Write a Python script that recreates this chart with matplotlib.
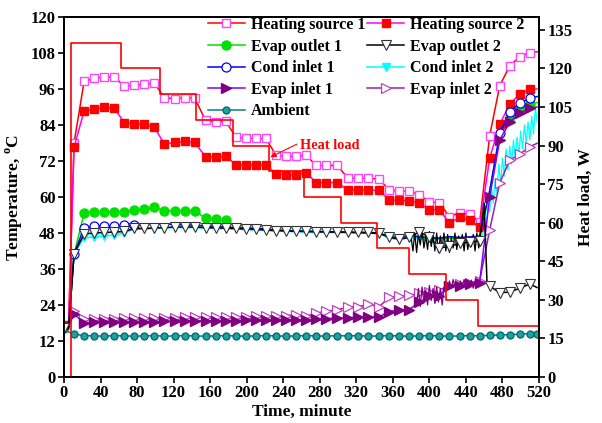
import matplotlib
matplotlib.use("Agg")
import matplotlib.pyplot as plt

plt.rcParams['font.family'] = 'Liberation Serif'
plt.rcParams['font.weight'] = 'bold'
plt.rcParams['axes.labelweight'] = 'bold'
plt.rcParams['font.size'] = 11.5
plt.rcParams['mathtext.fontset'] = 'custom'
plt.rcParams['mathtext.rm'] = 'Liberation Serif:bold'
plt.rcParams['mathtext.bf'] = 'Liberation Serif:bold'

# time of the marker points, minute
t = [0, 5, 11, 22, 33, 44, 55, 66, 77, 88, 99, 110, 121, 132, 143, 155, 166, 177,
     188, 199, 210, 221, 232, 243, 254, 265, 276, 287, 299, 311, 322, 333, 345, 356,
     367, 378, 389, 400, 411, 422, 433, 444, 455, 466, 477, 488, 499, 510, 518]

heating_1 = [17, 17, 78, 98.5, 99.5, 100, 100, 97, 97.2, 97.5, 98, 93, 92.8, 93, 93,
             85.5, 85, 85.3, 80, 79.5, 79.5, 79.5, 74, 73.5, 73.5, 74, 70.5, 70.5, 70.5,
             66.3, 66.3, 66.2, 66, 62.3, 62, 62, 60.7, 58.4, 58.1, 53.4, 54.8, 54.2, 51.5,
             80.4, 97.1, 103.7, 106.8, 108.1, 108.4]
heating_2 = [17.5, 17.5, 76.5, 88.7, 89.3, 89.9, 89.6, 84.8, 84.3, 84.2, 83.2, 77.6, 78.2, 78.5, 78.2,
             73.4, 73.3, 73.6, 70.8, 70.6, 70.6, 70.7, 67.7, 67.4, 67.4, 68.1, 64.8, 64.8, 64.8,
             62.3, 62.3, 62.3, 62.2, 59, 58.9, 58.7, 58.1, 55.7, 55.7, 51.2, 53.2, 52.3, 49.9,
             72.9, 84.2, 91, 94.3, 95.9, 96]
evap_out_1 = [17, 16.5, 41, 54.5, 54.9, 55, 55, 55.1, 55.6, 55.9, 56.6, 55.4, 55.4, 55.4, 55.4,
              52.9, 52.6, 52.4, 50, 49.8, 49.5, 49.3, 49, 48.8, 48.7, 48.6, 48.5, 48.4, 48.3,
              48.3, 48.2, 48.1, 48, 47, 46.5, 47, 46.5, 46.2, 46, 46.3, 46.2, 46, 46.5,
              62, 80, 86.5, 89.5, 91, 91.5]
cond_in_1 = [17, 16.5, 41, 49.8, 50.2, 50.3, 50.3, 50.5, 50.8, 51, 51, 51, 50.8, 50.7, 50.6,
             50.3, 50.2, 50, 49.8, 49.6, 49.5, 49.3, 49, 48.8, 48.7, 48.6, 48.5, 48.4, 48.3,
             48.2, 48.1, 48, 47.8, 46.8, 46.3, 47.2, 46.8, 46.5, 46.3, 46.8, 46.5, 46.7, 47,
             62, 81.2, 88.4, 91.4, 92.9, 93.5]
evap_in_1 = [17, 17, 21, 18, 18.2, 18.3, 18.3, 18.4, 18.5, 18.5, 18.5, 18.6, 18.6, 18.6, 18.7,
             18.7, 18.8, 18.8, 18.8, 18.9, 18.9, 19, 19, 19, 19, 19, 19.2, 19.5, 19.6,
             19.7, 19.9, 20, 20.1, 21.8, 22.3, 22.5, 25, 27, 27, 30.2, 30.5, 31, 31.5,
             60, 79, 85, 88, 89.5, 90]
evap_in_2 = [17, 17, 22, 19.3, 19.4, 19.5, 19.5, 19.6, 19.6, 19.7, 19.7, 19.8, 19.8, 19.9, 19.9,
             20, 20, 20, 20.1, 20.1, 20.2, 20.2, 20.3, 20.5, 20.7, 20.3, 21.2, 22, 22.3,
             23.4, 23.4, 24.2, 23.4, 26.6, 27, 27.2, 28, 28.5, 29, 30.5, 31, 31.5, 32,
             49, 64.7, 72.3, 74.3, 76.8, 77.9]
ambient = [16, 15, 14.3, 13.8, 13.7, 13.6, 13.8, 13.7, 13.6, 13.7, 13.8, 13.6, 13.7, 13.8, 13.7,
           13.6, 13.7, 13.8, 13.7, 13.6, 13.7, 13.8, 13.7, 13.6, 13.7, 13.8, 13.7, 13.6, 13.8,
           13.7, 13.8, 13.6, 13.7, 13.8, 13.7, 13.6, 13.7, 13.8, 13.7, 13.6, 13.7, 13.8, 13.7,
           13.9, 14, 14.1, 14.3, 14.5, 14.4]

# evap outlet 2 has its own times (jump and drop near 460 min)
eo2_t = t[:43] + [460, 463, 466, 477, 488, 499, 510, 518]
evap_out_2 = [16.5, 16, 41, 47.7, 48, 48.2, 48.3, 48.5, 49.5, 49.5, 49.7, 49.8, 50, 50, 50,
              49.8, 49.7, 49.6, 49.5, 49.3, 49.2, 49, 48.8, 48.7, 48.6, 48.5, 48.4, 48.4, 48.3,
              48.3, 48.2, 48.2, 48, 46.5, 46, 46.5, 48.4, 46.6, 43, 43.5, 44.5, 45, 45.3,
              58, 32, 30.3, 28.1, 28.3, 29.6, 31, 29.8]

# cond inlet 2 up to 455 min, then the noisy rise
cond_in_2 = [16.5, 16, 41, 46.5, 46.6, 47, 47.3, 48, 49.3, 49.3, 49.5, 49.6, 49.8, 49.8, 49.8,
             49.6, 49.5, 49.4, 49.3, 49.1, 49, 48.8, 48.6, 48.5, 48.4, 48.3, 48.2, 48.2, 48.1,
             48.1, 48, 48, 47.8, 46.3, 45.8, 46.3, 46, 45.5, 43.5, 44, 44.5, 45, 45.5]
ci2_noise_t = [455, 462, 464, 466, 468, 470, 472, 474, 476, 478, 480, 482, 484, 486, 488, 490,
               492, 494, 496, 498, 500, 502, 504, 506, 508, 510, 512, 514, 516, 518]
ci2_noise = [45.5, 50, 57, 55, 63, 58, 66, 61, 71, 64, 73, 67, 76, 69, 77, 71,
             79, 73, 80, 74, 82, 76, 84, 78, 85, 79, 87, 81, 90, 85]

# fluctuating parts, 380-456 min
eo2_noise_t = [380, 382, 384, 386, 388, 390, 392, 394, 396, 398, 400, 402, 404, 406, 408,
               410, 412, 414, 416, 418, 420, 422, 424, 426, 428, 430, 432, 434, 436, 438,
               440, 442, 444, 446, 448, 450, 452, 454, 456]
eo2_noise = [46.5, 42, 48, 41.5, 47.5, 44, 49, 43, 47, 42.5, 48.5, 43.5, 47.5, 42, 48,
             41.5, 47, 43, 48, 42, 47.5, 41.5, 46.5, 43, 48, 42.5, 47, 43.5, 47.5, 42,
             48, 42.5, 46.5, 43.5, 47.5, 42, 48, 43, 46]
ei1_noise_t = [386, 388, 390, 392, 394, 396, 398, 400, 402, 404, 406, 408, 410, 412, 414, 416,
               418, 420, 422, 424, 426, 428, 430, 432, 434, 436, 438, 440, 442, 444, 446, 448,
               450, 452, 454, 456]
ei1_noise = [24, 29.5, 23.5, 30, 25, 29, 24, 30.5, 25.5, 29.5, 24.5, 30, 25, 29.5, 24, 30,
             29, 30, 32, 29.5, 32.5, 30, 31.5, 29.5, 32, 30.5, 32.5, 29.8, 31.8, 30.2, 32.3, 29.6,
             32, 30.4, 32.2, 31.5]

# heat load steps, W
heat_t = [0, 8, 62, 105, 145, 185, 224, 263, 303, 343, 378, 418, 453, 520]
heat_w = [0, 130, 120, 110, 100, 90, 80, 70, 60, 50, 40, 30, 20, 20]

x_ticks = [0, 40, 80, 120, 160, 200, 240, 280, 320, 360, 400, 440, 480, 520]
temp_ticks = [0, 12, 24, 36, 48, 60, 72, 84, 96, 108, 120]
load_ticks = [0, 15, 30, 45, 60, 75, 90, 105, 120, 135]

fig = plt.figure(figsize=(6.02, 4.23), dpi=100)
ax = fig.add_axes([64 / 602, 46 / 423, 475 / 602, 360 / 423])
ax2 = ax.twinx()

mk = [0] + list(range(2, 48))
lw = 1.1

h1, = ax.plot(t, heating_1, color='red', lw=lw, marker='s', ms=5.5, mfc='white',
              mec='#ff44ff', mew=1.0, markevery=list(range(2, 48)), zorder=3,
              label='Heating source 1')
h2, = ax.plot(t, heating_2, color='#ff00ff', lw=lw, marker='s', ms=5.5, mfc='red',
              mec='red', markevery=mk, zorder=3.1, label='Heating source 2')
e1, = ax.plot(t, evap_out_1, color='#00e000', lw=lw, marker='o', ms=6.5, mfc='#00e000',
              mec='#00e000', markevery=list(range(3, 18)) + [45, 46, 47], zorder=3,
              label='Evap outlet 1')
c1, = ax.plot(t, cond_in_1, color='blue', lw=lw, marker='o', ms=6.5, mfc='white',
              mec='blue', mew=0.9, markevery=list(range(2, 9)) + [44, 45, 46, 47], zorder=3.3,
              label='Cond inlet 1')
ax.plot(ci2_noise_t, ci2_noise, color='cyan', lw=0.9, zorder=3.2)
c2, = ax.plot(t[:43], cond_in_2, color='cyan', lw=lw, marker='v', ms=6, mfc='cyan',
              mec='cyan', markevery=list(range(3, 8)), zorder=3.2, label='Cond inlet 2')
ax.plot(eo2_noise_t, eo2_noise, color='black', lw=0.9, zorder=3.5)
e2, = ax.plot(eo2_t, evap_out_2, color='black', lw=lw, marker='v', ms=6.5, mfc='white',
              mec='#333333', mew=0.8, markevery=[0] + list(range(2, 43)) + [45, 46, 47, 48, 49],
              zorder=3.6, label='Evap outlet 2')
ax.plot(ei1_noise_t, ei1_noise, color='#800080', lw=0.9, zorder=3.4)
i1, = ax.plot(t, evap_in_1, color='#8000ff', lw=lw, marker='>', ms=6.5, mfc='#800080',
              mec='#800080', markevery=list(range(2, 48)), zorder=3.4, label='Evap inlet 1')
i2, = ax.plot(t, evap_in_2, color='#a020a0', lw=lw, marker='>', ms=6.5, mfc='white',
              mec='#c040c0', mew=0.9, markevery=list(range(2, 48)), zorder=3.3,
              label='Evap inlet 2')
am, = ax.plot(t, ambient, color='#008080', lw=lw, marker='o', ms=5, mfc='#20a0a0',
              mec='#007070', markevery=[0] + list(range(2, 49)), zorder=3.4, label='Ambient')

ax2.plot(heat_t, heat_w, drawstyle='steps-post', color='red', lw=1.2)

ax.annotate('Heat load', xy=(226, 73.3), xytext=(258, 77.2), color='red', fontsize=10.3,
            fontweight='bold', ha='left', va='center',
            arrowprops=dict(arrowstyle='-|>', color='red', lw=0.8, mutation_scale=8,
                            shrinkA=0, shrinkB=0, relpos=(0, 0.7)))

ax.set_xlim(0, 520)
ax.set_ylim(0, 120)
ax2.set_ylim(0, 140)
tick_font = {'family': 'Liberation Serif', 'weight': 'bold', 'size': 12}
ax.set_xticks(x_ticks)
ax.set_xticklabels([str(v) for v in x_ticks], fontdict=tick_font)
ax.set_yticks(temp_ticks)
ax.set_yticklabels([str(v) for v in temp_ticks], fontdict=tick_font)
ax2.set_yticks(load_ticks)
ax2.set_yticklabels([str(v) for v in load_ticks], fontdict=tick_font)

ax.set_xlabel('Time, minute', fontsize=12.5, fontweight='bold', labelpad=2)
ax.set_ylabel('Temperature, $^{\\mathrm{o}}$C', fontsize=12.5, fontweight='bold', labelpad=4)
ax2.set_ylabel('Heat load, W', fontsize=12.5, fontweight='bold', rotation=90, labelpad=4)

for a in (ax, ax2):
    a.tick_params(direction='out', length=4, width=1.2, pad=2)
    for s in a.spines.values():
        s.set_linewidth(1.3)

handles = [h1, e1, c1, i1, am, h2, e2, c2, i2]
leg = ax2.legend(handles, [h.get_label() for h in handles], ncol=2, frameon=False,
                 loc='upper left', bbox_to_anchor=(208 / 602, 1 - 17 / 423),
                 bbox_transform=fig.transFigure, borderpad=0, borderaxespad=0,
                 handlelength=2.3, handletextpad=0.4, columnspacing=0.1, labelspacing=0.35,
                 numpoints=1, fontsize=11.5)
for txt in leg.get_texts():
    txt.set_fontweight('bold')
    txt.set_fontfamily('Liberation Serif')

fig.savefig('out.png', dpi=100)
